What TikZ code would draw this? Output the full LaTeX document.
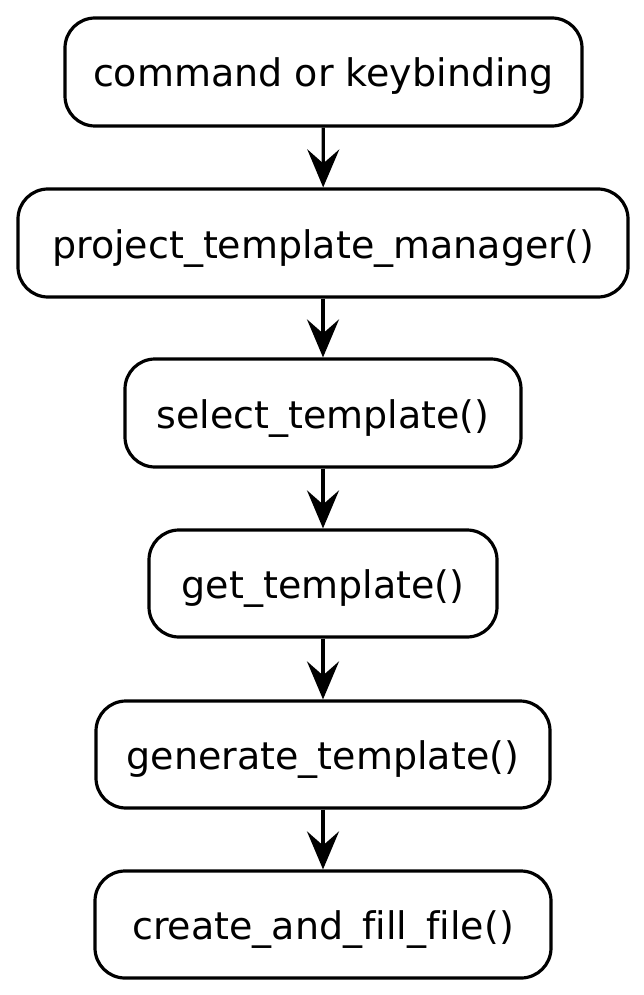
\documentclass[tikz,border=0pt]{standalone}
\usepackage{fontspec}
\setmainfont[Ligatures={NoCommon}]{DejaVu Sans}
\usetikzlibrary{arrows.meta}
\begin{document}
\begin{tikzpicture}[x=1pt,y=-1pt,
  box/.style={draw=black, line width=3.2pt, rounded corners=30pt, fill=white, inner sep=0pt, text height=30pt, text depth=0pt, font=\fontsize{38}{44}\selectfont},
  conn/.style={line width=3.2pt, -{Stealth[length=38pt,width=32pt,inset=14pt]}}]
\useasboundingbox (0,0) rectangle (644,995);
\node[box, minimum width=517pt, minimum height=108pt] (a) at (323.5,72) {command or keybinding};
\node[box, minimum width=610pt, minimum height=108pt] (b) at (323,243) {project\_template\_manager()};
\node[box, minimum width=396pt, minimum height=108pt] (c) at (323,413) {select\_template()};
\node[box, minimum width=348pt, minimum height=107pt] (d) at (323,583.5) {get\_template()};
\node[box, minimum width=454pt, minimum height=107pt] (e) at (323,754.5) {generate\_template()};
\node[box, minimum width=456pt, minimum height=107pt] (f) at (323,924.5) {create\_and\_fill\_file()};
\draw[conn] (a) -- (b);
\draw[conn] (b) -- (c);
\draw[conn] (c) -- (d);
\draw[conn] (d) -- (e);
\draw[conn] (e) -- (f);
\end{tikzpicture}
\end{document}
